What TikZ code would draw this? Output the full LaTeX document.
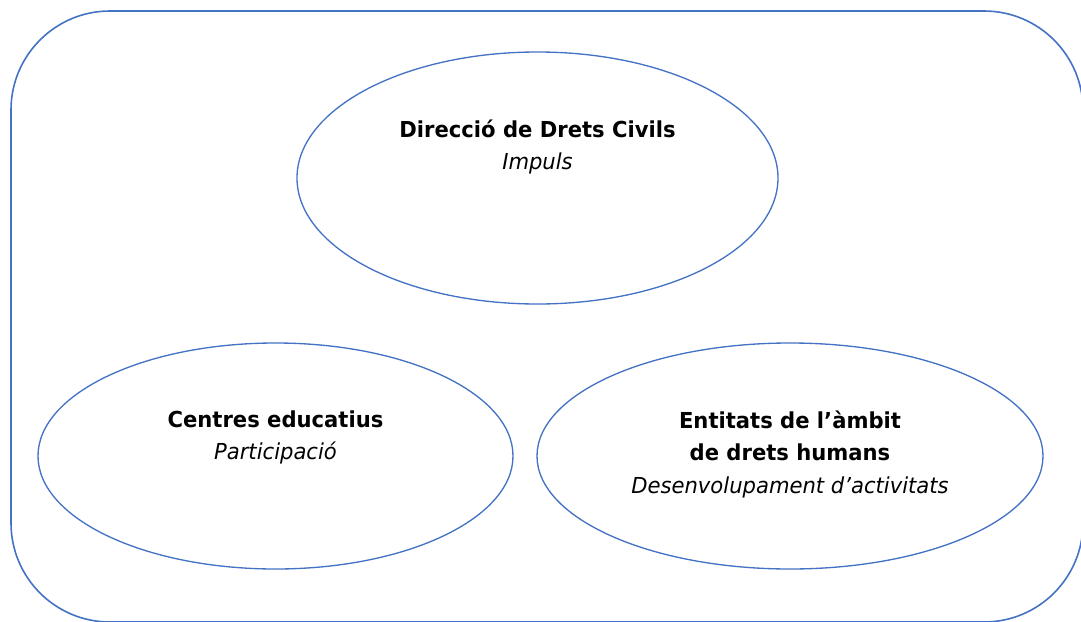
\documentclass[tikz,border=0pt]{standalone}
\usepackage{fontspec}
\setmainfont{DejaVu Sans}[FakeStretch=0.96]
\usetikzlibrary{shapes.geometric}
\definecolor{lineblue}{RGB}{68,114,196}
\tikzset{
  bubble/.style={draw=lineblue,line width=1pt,ellipse,inner sep=0pt},
  caption/.style={anchor=north,align=center,inner sep=0pt,
    font=\fontsize{16.5}{24.5}\selectfont}
}
\begin{document}
\begin{tikzpicture}[x=0.75pt,y=-0.75pt]
\useasboundingbox (0,0) rectangle (1081,621);
\draw[lineblue,line width=1.2pt,rounded corners=74.25pt] (11,11) rectangle (1083,622);
% the three partners
\node[bubble,minimum width=360.75pt,minimum height=189pt] (dir) at (537.5,178) {};
\node[bubble,minimum width=356.25pt,minimum height=169.5pt] (cent) at (275.5,456) {};
\node[bubble,minimum width=379.5pt,minimum height=169.5pt] (ent) at (790,456) {};
\node[caption] (dirtxt) at ([yshift=-51pt]dir.north) {\textbf{Direcció de Drets Civils}\\\textit{Impuls}};
\node[caption] (centtxt) at ([yshift=-51pt]cent.north) {\textbf{Centres educatius}\\\textit{Participació}};
\node[caption] (enttxt) at ([yshift=-51pt]ent.north) {\textbf{Entitats de l’àmbit}\\\textbf{de drets humans}\\\textit{Desenvolupament d’activitats}};
\end{tikzpicture}
\end{document}
